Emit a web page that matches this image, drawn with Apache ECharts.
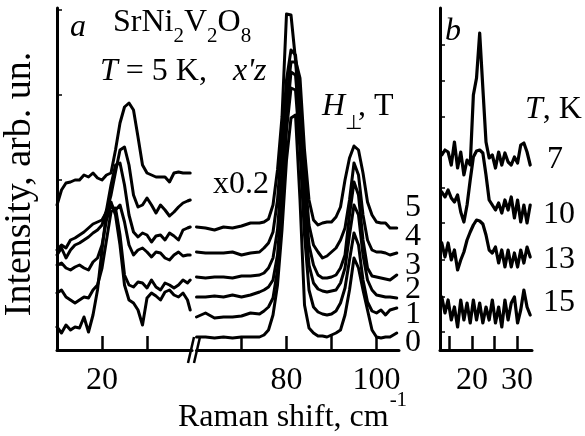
<!DOCTYPE html>
<html><head><meta charset="utf-8">
<script src="https://cdn.jsdelivr.net/npm/echarts@6/dist/echarts.min.js"></script>
<style>html,body{margin:0;padding:0;background:#fff}#c{width:585px;height:436px}</style>
</head><body><div id="c"></div>
<script>
// Panel a, low-frequency part (cm^-1)
const lowX = [10,11,12,13,14,15,16,17,18,19,20,21,22,23,24,25,26,27,28,29,30,31,32,33,34,35,36,37,38,39,39.6];
const low5 = [145,160,167,168,170,170,175,173,177,172,170,175,177,200,227,243,247,240,213,185,177,175,173,173,173,168,177,178,177,177,177];
const low4 = [100,105,102,110,112,115,118,122,126,128,130,138,155,178,200,203,185,155,143,145,152,145,137,145,140,134,138,143,147,149,150];
const low3 = [95,102,92,100,105,107,110,113,117,120,125,140,165,185,187,165,135,118,113,117,115,108,114,115,110,117,114,110,120,122,123];
const low2 = [85,87,82,80,83,85,82,80,88,92,105,130,145,140,145,128,105,95,100,102,98,93,98,97,92,90,95,98,94,95,95];
const low1 = [57,60,53,50,47,50,53,52,60,65,82,110,138,142,115,75,65,63,68,67,62,70,63,60,67,65,62,65,70,67,70];
const low0 = [23,17,25,20,23,22,33,18,35,60,100,138,148,135,105,65,50,47,40,25,52,57,54,50,58,60,55,53,57,50,40];
// Panel a, high-frequency part (x0.2)
const highX = [60,62,64,66,68,70,72,74,75,76,77,78,79,80,81,82,83,84,85,86,87,88,89,90,91,92,93,94,95,96,97,98,99,100,101,102,103,104.5];
const high5 = [123,122,120,123,122,124,127,127,128,131,145,180,233,336,335,290,272,200,150,130,125,127,128,128,133,143,170,192,204,200,177,148,135,128,127,127,122,122];
const high4 = [98,97,97,97,98,95,97,98,102,107,118,150,210,270,300,295,250,180,125,105,98,92,94,98,102,110,122,150,187,175,135,110,100,98,98,97,95,97];
const high3 = [73,72,73,73,72,74,74,75,77,82,92,120,180,250,288,288,240,160,105,85,75,72,72,73,75,82,95,135,168,155,110,82,74,73,72,71,70,75];
const high2 = [53,53,54,53,55,53,55,58,60,63,70,95,155,230,278,275,220,140,85,67,61,59,58,59,60,67,82,115,145,135,95,70,60,55,54,53,53,52];
const high1 = [33,37,32,33,33,34,37,36,39,43,52,80,145,220,262,260,200,115,60,43,38,36,35,36,39,47,62,90,117,105,70,48,39,37,40,35,40,42];
const high0 = [13,13,12,13,12,13,13,13,15,20,35,65,120,190,232,235,150,45,22,17,14,14,13,15,17,20,35,60,92,82,60,40,20,13,12,13,13,17];
// Panel b, temperature series
const bX = [13.3,14,14.7,15.4,16.1,16.8,17.5,18.2,18.9,19.6,20.3,21,21.7,22.4,23.1,23.8,24.5,25.2,25.9,26.6,27.3,28,28.7,29.4,30.1,30.8,31.5,32.2,32.9];
const b7  = [195,200,198,185,208,182,198,175,190,185,255,272,317,262,208,192,195,182,198,185,197,188,185,193,187,205,207,198,185];
const b10 = [158,153,160,152,148,155,138,128,145,170,193,199,200,197,175,150,145,140,147,137,150,140,153,132,150,128,145,127,145];
const b13 = [107,93,107,90,100,80,90,98,110,118,125,130,129,126,115,100,97,103,87,100,83,100,83,97,83,100,87,103,93];
const b15 = [53,37,50,30,43,23,50,30,47,27,50,30,47,27,43,30,50,27,43,23,50,30,47,53,27,40,60,43,35];
// Tick labels
const lowTicks = [20,30], lowLabels = [20];
const highTicks = [70,80,90,100], highLabels = [80,100];
const bTicks = [15,20,25,30], bLabels = [20,30];
const aYTicks = [85,170,255,340];
const bYTicks = [18,53,90,127,162,198,233,269,305];
const fieldLabels = ['5','4','3','2','1','0'];
const tempLabels = ['7','10','13','15'];

const FONT = '"Liberation Serif","Times New Roman",serif';
const zip = (xs, ys) => xs.map((x, i) => [x, ys[i]]);
function line(xi, ys, xs, lw) {
  return {type:'line', xAxisIndex:xi, yAxisIndex:xi, data:zip(xs, ys), showSymbol:false, symbol:'none',
    lineStyle:{color:'#000', width:lw, join:'round', cap:'round'}, silent:true, animation:false, clip:false};
}
function xAx(gi, min, max, ticks, labels) {
  return {gridIndex:gi, type:'value', min:min, max:max,
    axisLine:{show:true, onZero:false, lineStyle:{color:'#000', width:3}},
    axisTick:{show:true, inside:true, length:14, customValues:ticks, lineStyle:{color:'#000', width:2.5}},
    axisLabel:{show:true, customValues:labels, color:'#000', fontSize:32, fontFamily:FONT, margin:15},
    splitLine:{show:false}};
}
function yAx(gi, show, ticks) {
  return {gridIndex:gi, type:'value', min:0, max:342, show:show,
    axisLine:{show:true, lineStyle:{color:'#000', width:3}},
    axisTick:{show:true, inside:true, length:5, customValues:ticks, lineStyle:{color:'#000', width:1.5}},
    axisLabel:{show:false}, splitLine:{show:false}};
}
function txt(str, x, base, size, italic, align) {
  const f = (italic ? 'italic ' : '') + size + 'px ' + FONT;
  return {type:'text', x:x, y:base - 0.3375*size, silent:true,
    style:{text:str, font:f, fill:'#000', textAlign:align||'left', textVerticalAlign:'middle', align:align||'left', verticalAlign:'middle'}};
}
const ctx = document.createElement('canvas').getContext('2d');
function w(str, size, italic) { ctx.font = (italic ? 'italic ' : '') + size + 'px ' + FONT; return ctx.measureText(str).width; }

const g = [];
// break marks
g.push({type:'line', shape:{x1:188,y1:363,x2:194,y2:337}, style:{stroke:'#000', lineWidth:2.5}});
g.push({type:'line', shape:{x1:194,y1:363,x2:200,y2:337}, style:{stroke:'#000', lineWidth:2.5}});
// panel letters
g.push(txt('a', 70, 38, 32, true));
g.push(txt('b', 445, 42, 32, true));
// formula SrNi2V2O8
(function(){
  let x = 113; const B = 33, S = 44, fs = 32, ss = 21;
  [['Sr',0],['Ni',0],['2',1],['V',0],['2',1],['O',0],['8',1]].forEach(p => {
    if (p[1]) { g.push(txt(p[0], x, S, ss, false)); x += w(p[0], ss, false); }
    else { g.push(txt(p[0], x, B, fs, false)); x += w(p[0], fs, false); }
  });
})();
// T = 5 K,  x'z
g.push(txt('T', 100, 82, 32, true));
g.push(txt(' = 5 K,', 100 + w('T', 32, true), 82, 32, false));
g.push(txt("x'z", 233, 82, 32, true));
g.push(txt('x0.2', 213, 195, 32, false));
// H_perp, T
g.push(txt('H', 322, 117, 32, true));
g.push(txt('\u22A5', 345, 130, 20, false));
g.push(txt(', T', 358, 117, 32, false));
// T, K
g.push(txt('T', 525, 120, 32, true));
g.push(txt(', K', 525 + w('T', 32, true), 120, 32, false));
// field labels
[218, 247, 276, 300, 325, 353].forEach((b, i) => g.push(txt(fieldLabels[i], 405, b, 32, false)));
// temperature labels
[[547,170],[543,225],[543,270],[543,313]].forEach((p, i) => g.push(txt(tempLabels[i], p[0], p[1], 32, false)));
// x axis title
g.push(txt('Raman shift, cm', 178, 428, 32, false));
g.push(txt('-1', 178 + w('Raman shift, cm', 32, false) + 1, 408, 21, false));
// y axis title
g.push({type:'text', x:20, y:184, rotation:Math.PI/2, silent:true,
  style:{text:'Intensity, arb. un.', font:'38px ' + FONT, fill:'#000', textAlign:'center', textVerticalAlign:'middle', align:'center', verticalAlign:'middle'}});

const chart = echarts.init(document.getElementById('c'), null, {renderer:'canvas'});
chart.setOption({
  animation:false,
  backgroundColor:'#fff',
  grid:[
    {left:57, top:8, width:135, height:342, outerBoundsMode:'none'},
    {left:196.5, top:8, width:202.5, height:342, outerBoundsMode:'none'},
    {left:440, top:8, width:92, height:342, outerBoundsMode:'none'}
  ],
  xAxis:[xAx(0,10,40,lowTicks,lowLabels), xAx(1,60,105,highTicks,highLabels), xAx(2,12.9,33.3,bTicks,bLabels)],
  yAxis:[yAx(0,true,aYTicks), yAx(1,false,[]), yAx(2,true,bYTicks)],
  series:[
    line(0, low5, lowX, 3), line(0, low4, lowX, 3), line(0, low3, lowX, 3), line(0, low2, lowX, 3), line(0, low1, lowX, 3), line(0, low0, lowX, 3),
    line(1, high5, highX, 3), line(1, high4, highX, 3), line(1, high3, highX, 3), line(1, high2, highX, 3), line(1, high1, highX, 3), line(1, high0, highX, 3),
    line(2, b7, bX, 3.2), line(2, b10, bX, 3.2), line(2, b13, bX, 3.2), line(2, b15, bX, 3.2)
  ],
  graphic:g
});
</script></body></html>
